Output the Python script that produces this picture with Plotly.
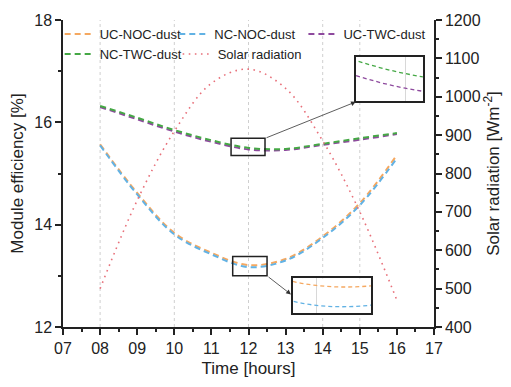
import plotly.graph_objects as go

# Hourly measurements
hours = [8, 9, 10, 11, 12, 13, 14, 15, 16]
uc_noc_dust = [15.57, 14.62, 13.84, 13.45, 13.21, 13.33, 13.77, 14.42, 15.36]
nc_noc_dust = [15.55, 14.59, 13.81, 13.42, 13.17, 13.30, 13.74, 14.38, 15.30]
uc_twc_dust = [16.30, 16.06, 15.82, 15.62, 15.47, 15.46, 15.56, 15.66, 15.77]
nc_twc_dust = [16.32, 16.09, 15.85, 15.65, 15.50, 15.48, 15.58, 15.69, 15.79]
solar_radiation = [500, 730, 910, 1035, 1072, 1022, 885, 700, 470]

grid_hours = [8, 10, 12, 14, 15]

FONT = "Liberation Sans, Arial, sans-serif"
C_ORANGE = "#F5A860"
C_BLUE = "#62B2E4"
C_PURPLE = "#8E4A9E"
C_GREEN = "#45A845"
C_RED = "#E8707A"
DASH = "6px,4px"
DASH_IN = "4px,3px"

# zoom windows: (x0, x1, y0, y1) on the main axes and inset ranges
top_box = (11.53, 12.445, 15.35, 15.687)
bot_box = (11.574, 12.5, 13.0, 13.38)
top_inset_x = [11.75, 12.09]
top_inset_y = [15.443, 15.533]
bot_inset_x = [11.9, 12.23]
bot_inset_y = [13.154, 13.224]

fig = go.Figure()

series = [
    ("UC-NOC-dust", uc_noc_dust, C_ORANGE, "legend"),
    ("NC-NOC-dust", nc_noc_dust, C_BLUE, "legend2"),
    ("UC-TWC-dust", uc_twc_dust, C_PURPLE, "legend3"),
    ("NC-TWC-dust", nc_twc_dust, C_GREEN, "legend4"),
]
for name, vals, col, leg in series:
    fig.add_trace(go.Scatter(
        x=hours, y=vals, name=name, mode="lines", legend=leg,
        line=dict(color=col, width=2, dash=DASH, shape="spline"),
        xaxis="x", yaxis="y"))

fig.add_trace(go.Scatter(
    x=hours, y=solar_radiation, name="Solar radiation", mode="lines",
    legend="legend5",
    line=dict(color=C_RED, width=1.6, dash="1.6px,4.5px", shape="spline"),
    xaxis="x", yaxis="y2"))

# inset traces
for vals, col in [(uc_twc_dust, C_PURPLE), (nc_twc_dust, C_GREEN)]:
    fig.add_trace(go.Scatter(
        x=hours, y=vals, mode="lines", showlegend=False, hoverinfo="skip",
        line=dict(color=col, width=1.3, dash=DASH_IN, shape="spline"),
        xaxis="x3", yaxis="y3"))
for vals, col in [(uc_noc_dust, C_ORANGE), (nc_noc_dust, C_BLUE)]:
    fig.add_trace(go.Scatter(
        x=hours, y=vals, mode="lines", showlegend=False, hoverinfo="skip",
        line=dict(color=col, width=1.3, dash=DASH_IN, shape="spline"),
        xaxis="x4", yaxis="y4"))

for h in grid_hours:
    fig.add_vline(x=h, line=dict(color="#cfcfcf", width=1, dash="dot"),
                  layer="below")

for (x0, x1, y0, y1) in (top_box, bot_box):
    fig.add_shape(type="rect", xref="x", yref="y", x0=x0, x1=x1, y0=y0, y1=y1,
                  line=dict(color="#222", width=1.5))

# arrows from the zoom windows to the insets
arrows = [
    ((top_box[1], top_box[3]), (14.893, 16.40)),
    ((bot_box[1], bot_box[2]), (13.145, 12.637)),
]
for (tx, ty), (hx, hy) in arrows:
    fig.add_annotation(x=hx, y=hy, ax=tx, ay=ty, xref="x", yref="y",
                       axref="x", ayref="y", text="", showarrow=True,
                       arrowhead=2, arrowsize=1.2, arrowwidth=0.8,
                       arrowcolor="#333", standoff=0)

tick_font = dict(family=FONT, size=16, color="#222")
title_font = dict(family=FONT, size=17, color="#222")
axline = dict(showline=True, linecolor="#222", linewidth=1.5, zeroline=False,
              showgrid=False)

leg_common = dict(font=dict(family=FONT, size=13, color="#222"),
                  bgcolor="rgba(0,0,0,0)", borderwidth=0, yanchor="middle",
                  xanchor="left", orientation="h")

fig.update_layout(
    width=511, height=387,
    margin=dict(l=63, r=76, t=16, b=56),
    paper_bgcolor="white", plot_bgcolor="white",
    font=dict(family=FONT, color="#222"),
    xaxis=dict(range=[7, 17], dtick=1, tick0=7, tickformat="02d",
               ticks="outside", ticklen=6, tickwidth=1.5, tickcolor="#222",
               minor=dict(dtick=0.5, ticks="outside", ticklen=3,
                          tickwidth=1.5, tickcolor="#222"),
               tickfont=tick_font, title=dict(text="Time [hours]",
                                              font=title_font, standoff=6),
               **axline),
    xaxis2=dict(range=[7, 17], dtick=1, overlaying="x", side="top",
                anchor="y", ticks="inside", ticklen=5, tickwidth=1.5,
                tickcolor="#222", showticklabels=False,
                minor=dict(dtick=0.5, ticks="inside", ticklen=3,
                           tickwidth=1.5, tickcolor="#222"),
                **axline),
    yaxis=dict(range=[12, 18], dtick=2, ticks="outside", ticklen=6,
               tickwidth=1.5, tickcolor="#222",
               minor=dict(dtick=1, ticks="outside", ticklen=3,
                          tickwidth=1.5, tickcolor="#222"),
               tickfont=tick_font,
               title=dict(text="Module efficiency [%]", font=title_font,
                          standoff=6),
               **axline),
    yaxis2=dict(range=[400, 1200], dtick=100, overlaying="y", side="right",
                anchor="x", ticks="outside", ticklen=6, tickwidth=1.5,
                tickcolor="#222",
                minor=dict(dtick=50, ticks="outside", ticklen=3,
                           tickwidth=1.5, tickcolor="#222"),
                tickfont=tick_font,
                title=dict(text="Solar radiation [Wm<sup>-2</sup>]",
                           font=title_font, standoff=6),
                **axline),
    xaxis3=dict(domain=[0.789, 0.970], anchor="y3", range=top_inset_x,
                tickvals=[12], showticklabels=False, ticks="",
                showgrid=True, gridcolor="#d8d8d8", gridwidth=1,
                showline=True, mirror=True, linecolor="#222", linewidth=1.5,
                zeroline=False),
    yaxis3=dict(domain=[0.735, 0.878], anchor="x3", range=top_inset_y,
                showticklabels=False, ticks="", showgrid=False,
                showline=True, mirror=True, linecolor="#222", linewidth=1.5,
                zeroline=False),
    xaxis4=dict(domain=[0.619, 0.830], anchor="y4", range=bot_inset_x,
                tickvals=[12], showticklabels=False, ticks="",
                showgrid=True, gridcolor="#d8d8d8", gridwidth=1,
                showline=True, mirror=True, linecolor="#222", linewidth=1.5,
                zeroline=False),
    yaxis4=dict(domain=[0.0445, 0.158], anchor="x4", range=bot_inset_y,
                showticklabels=False, ticks="", showgrid=False,
                showline=True, mirror=True, linecolor="#222", linewidth=1.5,
                zeroline=False),
    legend=dict(x=-0.009, y=0.954, **leg_common),
    legend2=dict(x=0.300, y=0.954, **leg_common),
    legend3=dict(x=0.648, y=0.954, **leg_common),
    legend4=dict(x=-0.009, y=0.889, **leg_common),
    legend5=dict(x=0.309, y=0.889, **leg_common),
    showlegend=True,
)

fig.write_html("out.html")
